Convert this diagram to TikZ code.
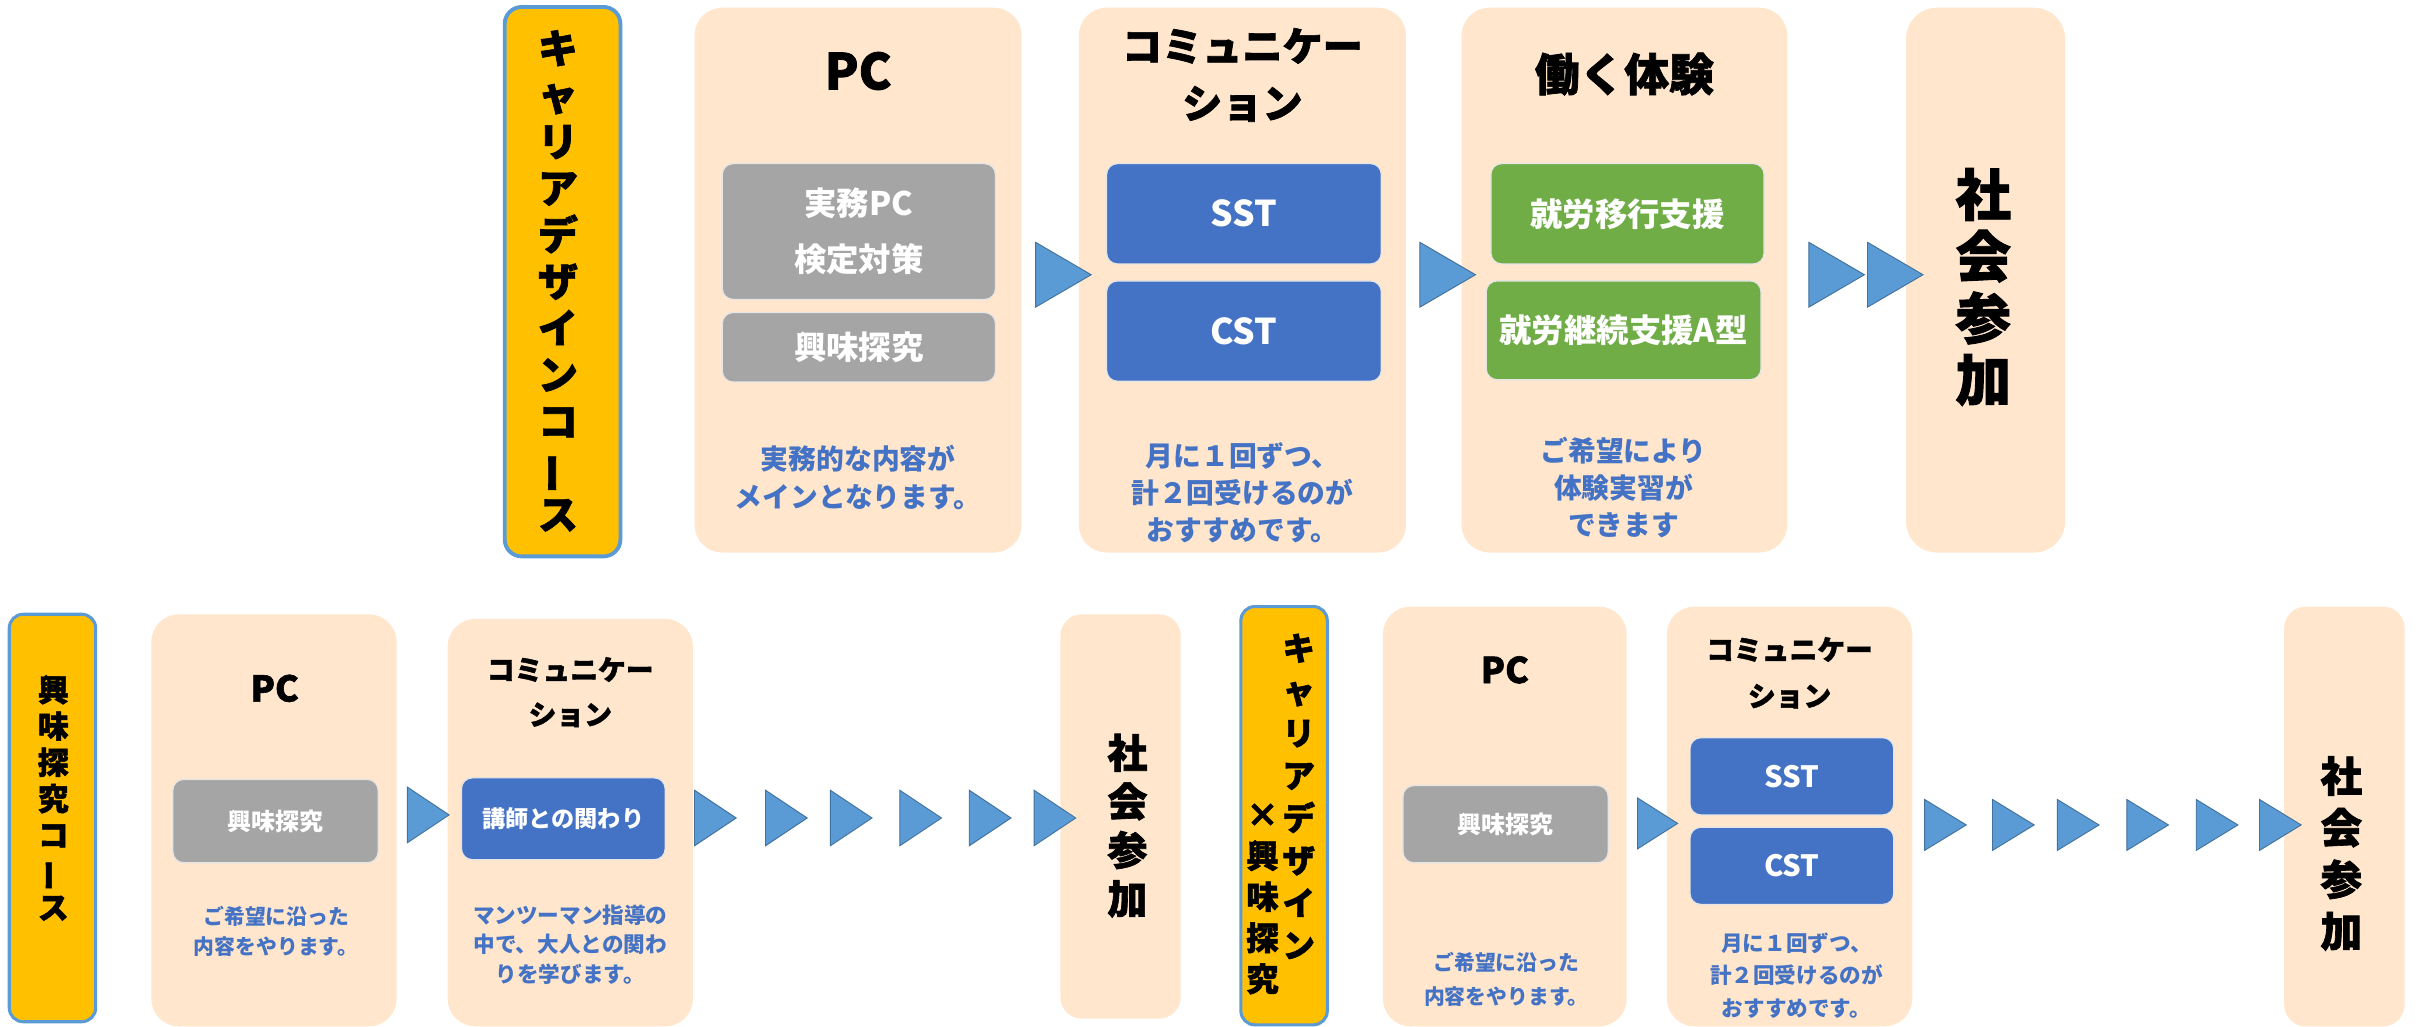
\documentclass[tikz,border=0pt]{standalone}
\usepackage{fontspec}
\setmainfont{Noto Sans CJK JP}
\newfontfamily\heavy{Noto Sans CJK JP}[FakeBold=1.6]

\definecolor{peach}{HTML}{FFE6CC}
\definecolor{gold}{HTML}{FFC000}
\definecolor{edgeblue}{HTML}{5B9BD5}
\definecolor{triedge}{HTML}{41719C}
\definecolor{boxgray}{HTML}{A5A5A5}
\definecolor{boxblue}{HTML}{4472C4}
\definecolor{boxgreen}{HTML}{70AD47}
\definecolor{notecol}{HTML}{4472C4}

\newcommand\fs[2]{\fontsize{#1}{#2}\selectfont\bfseries}
\newcommand\hs[2]{\heavy\fontsize{#1}{#2}\selectfont\bfseries}
\newcommand\tbar{\rotatebox[origin=c]{90}{ー}}

\tikzset{
  panel/.style={fill=peach, rounded corners=18pt, inner sep=0pt},
  course/.style={fill=gold, draw=edgeblue, line width=2.5pt, rounded corners=11pt, inner sep=0pt},
  sub/.style={draw=white!80!gray, line width=0.8pt, rounded corners=7pt, text=white, inner sep=0pt, align=center},
  graybox/.style={sub, fill=boxgray},
  bluebox/.style={sub, fill=boxblue},
  greenbox/.style={sub, fill=boxgreen},
  title/.style={align=center, inner sep=0pt},
  note/.style={align=center, text=notecol, inner sep=0pt},
  tate/.style={align=center, inner sep=0pt},
  tri/.pic={\filldraw[fill=edgeblue, draw=triedge, line width=0.6pt] (0,-1) -- (1,0) -- (0,1) -- cycle;}
}

\begin{document}
\begin{tikzpicture}[x=1pt, y=-1pt]
  \useasboundingbox (0,0) rectangle (1568,665);

  % upper course
  \node[course, minimum width=75pt, minimum height=356pt] (crs1) at (364.5,182.5) {};
  \node[tate, font=\hs{26}{30.2}] (crs1t) at (361.5,182) {キ\\ャ\\リ\\ア\\デ\\ザ\\イ\\ン\\コ\\\tbar\\ス};

  \node[panel, minimum width=212pt, minimum height=353pt] (pc1) at (556,181.5) {};
  \node[title, font=\hs{32}{36}] (pc1t) at (556,46) {PC};
  \node[graybox, minimum width=177pt, minimum height=88pt, font=\fs{21}{36}] (pc1a) at (556.5,150) {実務PC\\検定対策};
  \node[graybox, minimum width=177pt, minimum height=45pt, font=\fs{21}{25}] (pc1b) at (556.5,225) {興味探究};
  \node[note, font=\fs{18}{25}] (pc1n) at (556,309.5) {実務的な内容が\\メインとなります。};

  \node[panel, minimum width=212pt, minimum height=353pt] (com1) at (805,181.5) {};
  \node[title, font=\hs{26}{37}] (com1t) at (805,48.5) {コミュニケー\\ション};
  \node[bluebox, minimum width=178pt, minimum height=65pt, font=\fs{23}{26}] (sst1) at (806,138.5) {SST};
  \node[bluebox, minimum width=178pt, minimum height=65pt, font=\fs{23}{26}] (cst1) at (806,214.5) {CST};
  \node[note, font=\fs{18}{24}] (com1n) at (805,319) {月に１回ずつ、\\計２回受けるのが\\おすすめです。};

  \node[panel, minimum width=211pt, minimum height=353pt] (wrk1) at (1052.5,181.5) {};
  \node[title, font=\hs{29}{34}] (wrk1t) at (1052.5,48) {働く体験};
  \node[greenbox, minimum width=177pt, minimum height=65pt, font=\fs{21}{25}] (wrk1a) at (1054.5,138.5) {就労移行支援};
  \node[greenbox, minimum width=178pt, minimum height=64pt, font=\fs{21}{25}] (wrk1b) at (1052,214) {就労継続支援A型};
  \node[note, font=\fs{18}{24}] (wrk1n) at (1052,316) {ご希望により\\体験実習が\\できます};

  \node[panel, rounded corners=20pt, minimum width=103pt, minimum height=353pt] (soc1) at (1286.5,181.5) {};
  \node[tate, font=\hs{36}{40}] (soc1t) at (1285,186) {社\\会\\参\\加};

  \pic[xscale=36, yscale=21] at (671,178) {tri};
  \pic[xscale=36, yscale=21] at (920,178) {tri};
  \pic[xscale=36, yscale=21] at (1172,178) {tri};
  \pic[xscale=36, yscale=21] at (1210,178) {tri};

  % lower left course
  \node[course, line width=2pt, rounded corners=9pt, minimum width=56pt, minimum height=264pt] (crs2) at (34,530) {};
  \node[tate, font=\hs{20}{23.5}] (crs2t) at (34.5,517) {興\\味\\探\\究\\コ\\\tbar\\ス};

  \node[panel, minimum width=159pt, minimum height=267pt] (pc2) at (177.5,531.5) {};
  \node[title, font=\hs{23}{26}] (pc2t) at (178,446) {PC};
  \node[graybox, minimum width=133pt, minimum height=54pt, font=\fs{15.5}{19}] (pc2a) at (178.5,532) {興味探究};
  \node[note, font=\fs{13.5}{19.5}] (pc2n) at (179,603.5) {ご希望に沿った\\内容をやります。};

  \node[panel, minimum width=159pt, minimum height=264pt] (com2) at (369.5,533) {};
  \node[title, font=\hs{18}{29}] (com2t) at (369.5,448.5) {コミュニケー\\ション};
  \node[bluebox, minimum width=132pt, minimum height=53pt, font=\fs{15}{19}] (com2a) at (365,530.5) {講師との関わり};
  \node[note, font=\fs{14}{19}] (com2n) at (369.5,612) {マンツーマン指導の\\中で、大人との関わ\\りを学びます。};

  \node[panel, rounded corners=14pt, minimum width=78pt, minimum height=262pt] (soc2) at (726,529) {};
  \node[tate, font=\hs{26}{31.5}] (soc2t) at (730.5,535) {社\\会\\参\\加};

  \pic[xscale=27, yscale=18] at (264,528) {tri};
  \pic[xscale=27, yscale=18] at (450,530) {tri};
  \pic[xscale=27, yscale=18] at (496,530) {tri};
  \pic[xscale=27, yscale=18] at (538,530) {tri};
  \pic[xscale=27, yscale=18] at (583,530) {tri};
  \pic[xscale=27, yscale=18] at (628,530) {tri};
  \pic[xscale=27, yscale=18] at (670,530) {tri};

  % lower right course
  \node[course, line width=2pt, rounded corners=9pt, minimum width=56pt, minimum height=271pt] (crs3) at (832,528.5) {};
  \node[tate, font=\hs{21}{27.5}] (crs3r) at (841.5,516) {キ\\ャ\\リ\\ア\\デ\\ザ\\イ\\ン};
  \node[tate, font=\hs{21}{26.6}] (crs3l) at (818,582.5) {×\\興\\味\\探\\究};

  \node[panel, minimum width=158pt, minimum height=272pt] (pc3) at (975,529) {};
  \node[title, font=\hs{23}{26}] (pc3t) at (975,434) {PC};
  \node[graybox, minimum width=133pt, minimum height=50pt, font=\fs{15.5}{19}] (pc3a) at (975.5,534) {興味探究};
  \node[note, font=\fs{13.5}{22}] (pc3n) at (976,634.5) {ご希望に沿った\\内容をやります。};

  \node[panel, minimum width=159pt, minimum height=272pt] (com3) at (1159.5,529) {};
  \node[title, font=\hs{18}{30}] (com3t) at (1159.5,436) {コミュニケー\\ション};
  \node[bluebox, minimum width=132pt, minimum height=50pt, font=\fs{19}{22}] (sst3) at (1161,503) {SST};
  \node[bluebox, minimum width=132pt, minimum height=50pt, font=\fs{19}{22}] (cst3) at (1161,561) {CST};
  \node[note, font=\fs{14}{21}] (com3n) at (1164,632) {月に１回ずつ、\\計２回受けるのが\\おすすめです。};

  \node[panel, rounded corners=14pt, minimum width=78pt, minimum height=272pt] (soc3) at (1519,529) {};
  \node[tate, font=\hs{27}{33.5}] (soc3t) at (1517,553) {社\\会\\参\\加};

  \pic[xscale=26, yscale=16.5] at (1061,533.5) {tri};
  \pic[xscale=27, yscale=16.5] at (1247,534.5) {tri};
  \pic[xscale=27, yscale=16.5] at (1291,534.5) {tri};
  \pic[xscale=27, yscale=16.5] at (1333,534.5) {tri};
  \pic[xscale=27, yscale=16.5] at (1378,534.5) {tri};
  \pic[xscale=27, yscale=16.5] at (1423,534.5) {tri};
  \pic[xscale=27, yscale=16.5] at (1464,534.5) {tri};
\end{tikzpicture}
\end{document}
